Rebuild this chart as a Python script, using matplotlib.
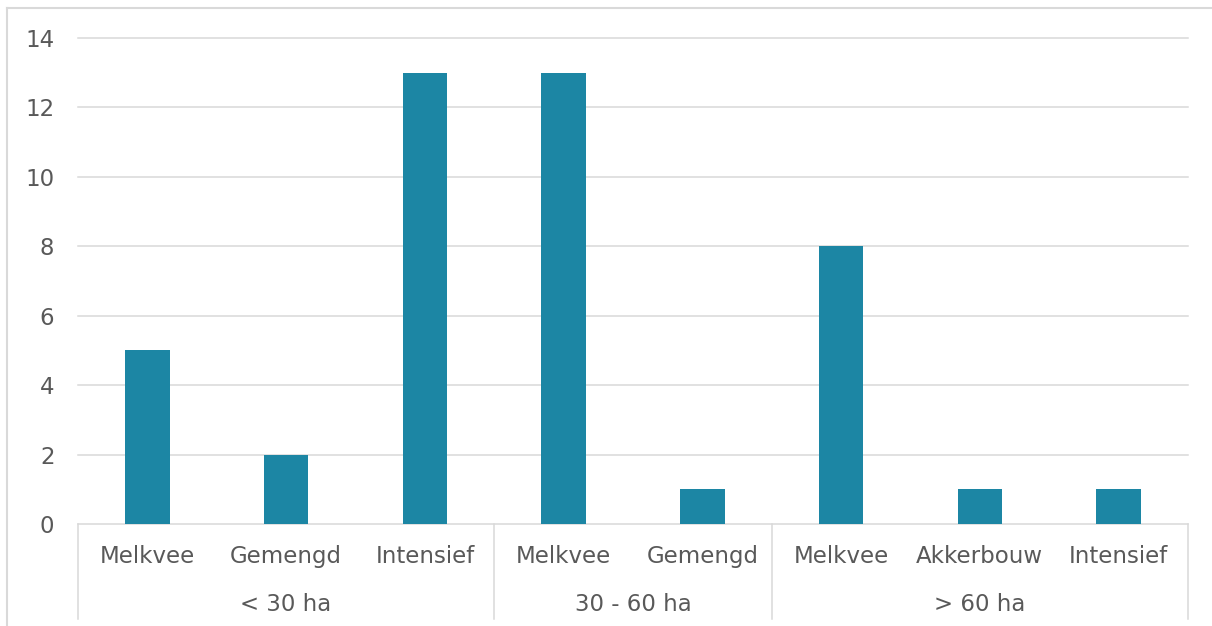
import matplotlib
matplotlib.use("Agg")
import matplotlib.pyplot as plt
from matplotlib.lines import Line2D
from matplotlib.transforms import blended_transform_factory

# farm types per size class and their counts
categories = ["Melkvee", "Gemengd", "Intensief",
              "Melkvee", "Gemengd",
              "Melkvee", "Akkerbouw", "Intensief"]
counts = [5, 2, 13, 13, 1, 8, 1, 1]
groups = ["< 30 ha", "30 - 60 ha", "> 60 ha"]
group_sizes = [3, 2, 3]
y_ticks = [0, 2, 4, 6, 8, 10, 12, 14]

BAR = "#1C86A4"
GRID = "#D9D9D9"
TEXT = "#595959"
FS = 16.5

plt.rcParams["font.family"] = ["DejaVu Sans"]

W, H = 1212, 626
fig = plt.figure(figsize=(W / 100, H / 100), dpi=100)
ax = fig.add_axes([78 / W, 1 - 524 / H, (1188 - 78) / W, (524 - 38) / H])

x = list(range(len(categories)))
ax.bar(x, counts, width=0.32, color=BAR, zorder=3)

ax.set_xlim(-0.5, len(categories) - 0.5)
ax.set_ylim(0, 14)
ax.set_yticks(y_ticks)
ax.set_yticklabels([str(t) for t in y_ticks])
ax.tick_params(axis="y", length=0, pad=17, labelsize=FS, labelcolor=TEXT)
ax.set_xticks([])
for s in ax.spines.values():
    s.set_visible(False)
for t in y_ticks:
    ax.axhline(t, color=GRID, lw=1.1, zorder=1, clip_on=False)

# two-level category axis below the plot
tr = blended_transform_factory(ax.transData, ax.transAxes)
for xi, lab in zip(x, categories):
    ax.text(xi, -0.066, lab, transform=tr, ha="center", va="center",
            fontsize=FS, color=TEXT)

start = -0.5
ax.plot([start, start], [0, -0.195], transform=tr, color=GRID, lw=1.1,
        clip_on=False)
for name, n in zip(groups, group_sizes):
    end = start + n
    ax.text((start + end) / 2, -0.165, name, transform=tr, ha="center",
            va="center", fontsize=FS, color=TEXT)
    ax.plot([end, end], [0, -0.195], transform=tr, color=GRID, lw=1.1,
            clip_on=False)
    start = end

# chart frame
fig.add_artist(Line2D([7 / W, 7 / W], [-0.05, 1 - 8 / H], color=GRID, lw=1.5,
                      transform=fig.transFigure))
fig.add_artist(Line2D([7 / W, 1.05], [1 - 8 / H, 1 - 8 / H], color=GRID, lw=1.5,
                      transform=fig.transFigure))

fig.savefig("out.png", dpi=100)
